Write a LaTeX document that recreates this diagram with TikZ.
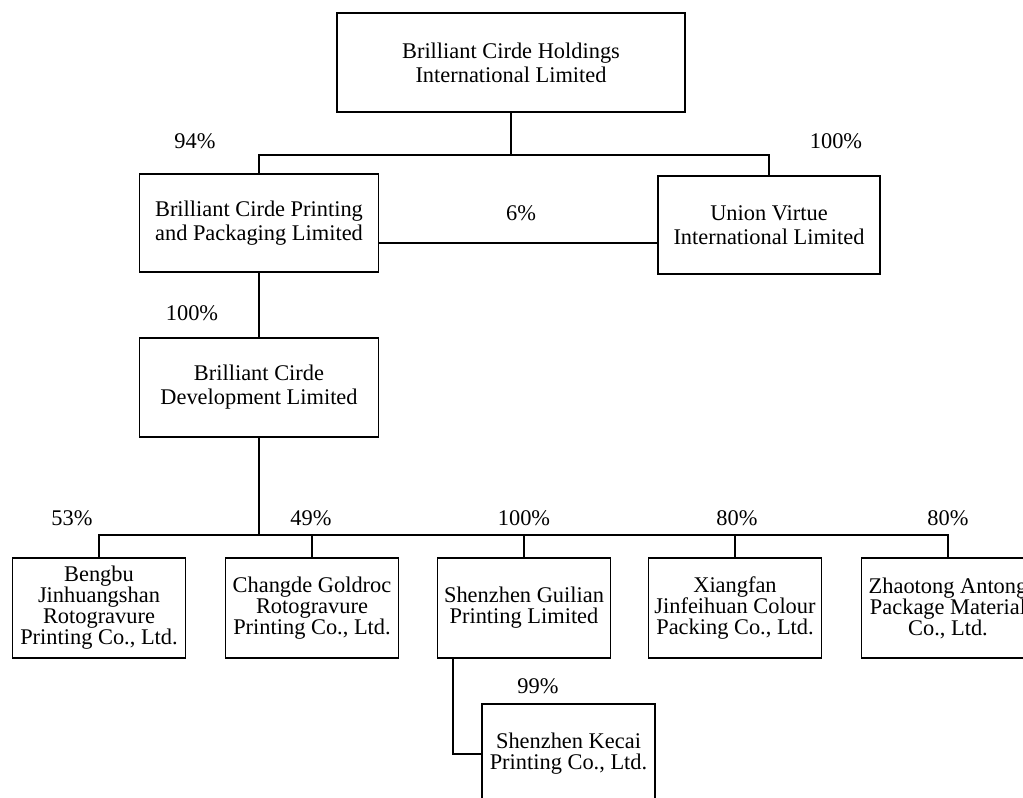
\documentclass[tikz,border=0pt]{standalone}
\usepackage{fontspec}
\setmainfont{Liberation Serif}
\begin{document}
\begin{tikzpicture}[x=0.5pt,y=-0.5pt,line width=0.6pt,
		entity/.style={draw,align=center,inner sep=0pt,font=\fontsize{11.2}{12}\selectfont},
		subsid/.style={entity,minimum width=86.5pt,minimum height=50pt,font=\fontsize{11.2}{10.5}\selectfont},
		share/.style={inner sep=0pt,font=\fontsize{11.2}{12}\selectfont}]
	\useasboundingbox (0,0) rectangle (1023,798);
	% holding level
	\node[entity,minimum width=174pt,minimum height=49.5pt] (hold) at (511,62.5) {Brilliant Cirde Holdings\\International Limited};
	\node[entity,minimum width=119.5pt,minimum height=49pt] (bcpp) at (259,223) {Brilliant Cirde Printing\\and Packaging Limited};
	\node[entity,minimum width=111pt,minimum height=49pt] (uvil) at (769,225) {Union Virtue\\International Limited};
	\node[entity,minimum width=119.5pt,minimum height=49.5pt] (bcdl) at (259,387.5) {Brilliant Cirde\\Development Limited};
	% operating subsidiaries
	\node[subsid] (bengbu) at (99,608) {Bengbu\\Jinhuangshan\\Rotogravure\\Printing Co., Ltd.};
	\node[subsid] (changde) at (312,608) {Changde Goldroc\\Rotogravure\\Printing Co., Ltd.};
	\node[subsid] (guilian) at (524,608) {Shenzhen Guilian\\Printing Limited};
	\node[subsid] (xiangfan) at (735,608) {Xiangfan\\Jinfeihuan Colour\\Packing Co., Ltd.};
	\node[subsid] (zhaotong) at (948,608) {Zhaotong Antong\\Package Material\\Co., Ltd.};
	\node[subsid] (kecai) at (568.5,754) {Shenzhen Kecai\\Printing Co., Ltd.};
	\coordinate (J1) at (511,155);
	\coordinate (J2) at (259,535);
	% connectors
	\draw (hold.south) -- (J1);
	\draw (bcpp.north) |- (J1) -| (uvil.north);
	\draw (bcpp.east |- 0,243) -- (uvil.west |- 0,243);
	\draw (bcpp.south) -- (bcdl.north);
	\draw (bcdl.south) -- (J2);
	\draw (bengbu.north) |- (J2) -| (zhaotong.north);
	\foreach \n in {changde,guilian,xiangfan}
		\draw (\n.north) -- (\n.north |- J2);
	\draw ([xshift=-35.5pt]guilian.south) |- (kecai.west);
	% shareholdings
	\node[share] (p1) at (195,141) {94\%};
	\node[share] (p2) at (836,141) {100\%};
	\node[share] (p3) at (521,213) {6\%};
	\node[share] (p4) at (192,313) {100\%};
	\node[share] (p5) at (72,518) {53\%};
	\node[share] (p6) at (311,518) {49\%};
	\node[share] (p7) at (524,518) {100\%};
	\node[share] (p8) at (737,518) {80\%};
	\node[share] (p9) at (948,518) {80\%};
	\node[share] (p10) at (538,686) {99\%};
\end{tikzpicture}
\end{document}
